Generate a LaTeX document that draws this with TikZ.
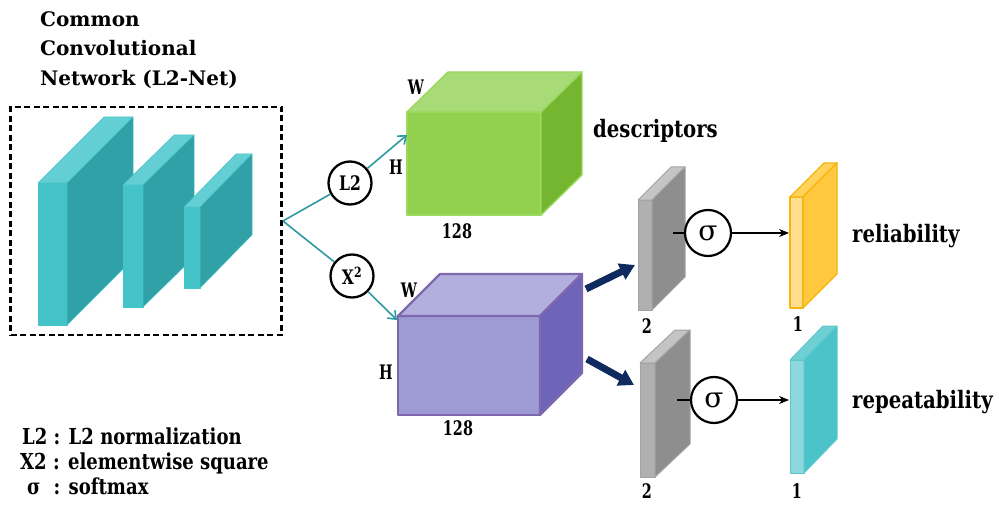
\documentclass[tikz,border=0pt]{standalone}
\usepackage{fontspec}
\setmainfont{DejaVu Serif}
\newfontfamily\condfont{DejaVu Serif}[FakeStretch=0.82]
\newfontfamily\narrowfont{DejaVu Serif}[FakeStretch=0.78]
\newfontfamily\dimfont{DejaVu Serif}[FakeStretch=0.72]
\usetikzlibrary{arrows.meta}

% face colours of the layer blocks
\definecolor{convfront}{HTML}{44C3C9}
\definecolor{convtop}{HTML}{63CED3}
\definecolor{convside}{HTML}{30A2A7}
\definecolor{convedge}{HTML}{44C3C9}
\definecolor{descfront}{HTML}{92D050}
\definecolor{desctop}{HTML}{A8DA78}
\definecolor{descside}{HTML}{75B630}
\definecolor{descedge}{HTML}{9BD95E}
\definecolor{sqfront}{HTML}{9E9AD3}
\definecolor{sqtop}{HTML}{B2AEDE}
\definecolor{sqside}{HTML}{6E64B9}
\definecolor{sqedge}{HTML}{7E67AC}
\definecolor{grayfront}{HTML}{B0B0B0}
\definecolor{graytop}{HTML}{C4C4C4}
\definecolor{grayside}{HTML}{8E8E8E}
\definecolor{grayedge}{HTML}{A3A3A3}
\definecolor{relfront}{HTML}{FFDF8E}
\definecolor{reltop}{HTML}{FFD25A}
\definecolor{relside}{HTML}{FFC83F}
\definecolor{reledge}{HTML}{F6B40E}
\definecolor{repfront}{HTML}{8CD8DC}
\definecolor{reptop}{HTML}{6FD0D4}
\definecolor{repside}{HTML}{4CC3C9}
\definecolor{repedge}{HTML}{5CC8CD}
\definecolor{branchline}{HTML}{2C9AA0}
\definecolor{navyarrow}{HTML}{0E2A5E}

\tikzset{
  conv slab/.style={draw=convedge, line width=0.5pt},
  desc slab/.style={draw=descedge, line width=1.4pt},
  sq slab/.style={draw=sqedge, line width=2.3pt},
  gray slab/.style={draw=grayedge, line width=1pt},
  rel slab/.style={draw=reledge, line width=1.4pt},
  rep slab/.style={draw=repedge, line width=1pt},
  opnode/.style={circle, draw=black, line width=2.3pt, minimum size=43pt, inner sep=0pt,
    font=\narrowfont\fontsize{20}{22}\selectfont\bfseries},
  signode/.style={circle, draw=black, line width=2.2pt, minimum size=46pt, inner sep=0pt,
    font=\fontsize{28}{30}\selectfont},
  branch/.style={draw=branchline, line width=1.6pt},
  branch arrow/.style={branch, -{Straight Barb[length=7pt, width=11pt, line width=1.6pt]}},
  sig arrow/.style={draw=black, line width=1.3pt, -{Stealth[length=10pt, width=8pt]}},
  thick arrow/.style={draw=navyarrow, line width=7pt, -{Triangle[length=15pt, width=17pt]}},
  cnnbox/.style={draw=black, line width=2.8pt, dash pattern=on 6pt off 3.5pt,
    minimum width=271pt, minimum height=228pt, inner sep=0pt},
  dimlabel/.style={font=\dimfont\fontsize{20}{22}\selectfont\bfseries, inner sep=0pt},
  headtext/.style={font=\fontsize{20}{24}\selectfont\bfseries, inner sep=0pt, anchor=base west},
  outtext/.style={font=\condfont\fontsize{24}{28}\selectfont\bfseries, inner sep=0pt, anchor=base west},
  legendtext/.style={font=\condfont\fontsize{22}{26}\selectfont\bfseries, inner sep=0pt, anchor=base west},
}

% \slab{x}{y}{width}{height}{dx}{dy}{prefix}: a block whose front face has its
% top-left corner at (x,y), receding by (dx,dy) up and to the right
\newcommand\slab[7]{%
  \filldraw[#7 slab, fill=#7front, line join=round] (#1,#2) rectangle ++(#3,#4);
  \filldraw[#7 slab, fill=#7top, line join=round]
    (#1,#2) -- ++(#5,-#6) -- ++(#3,0) -- ++(-#5,#6) -- cycle;
  \filldraw[#7 slab, fill=#7side, line join=round]
    (#1+#3,#2) -- ++(#5,-#6) -- ++(0,#4) -- ++(-#5,#6) -- cycle;
}

\begin{document}
\begin{tikzpicture}[x=1pt, y=-1pt]
\useasboundingbox (0,0) rectangle (999,508);

% heading of the shared network
\node[headtext] (title1) at (40,27) {Common};
\node[headtext] (title2) at (40,56) {Convolutional};
\node[headtext] (title3) at (40,86) {Network (L2-Net)};

% shared convolutional layers
\node[cnnbox] (cnn) at (146,221) {};
\slab{38}{183}{29}{142}{66}{66}{conv}
\slab{123}{185}{20}{122}{51}{50}{conv}
\slab{184}{207}{16}{81}{52}{53}{conv}

% descriptor tensor
\slab{407}{112}{134}{103}{41}{40}{desc}
\node[dimlabel] (descW) at (416,87) {W};
\node[dimlabel] (descH) at (396,167) {H};
\node[dimlabel] (descC) at (457,231) {128};
\node[outtext] (desclabel) at (593,138) {descriptors};

% squared feature tensor
\slab{398}{316}{142}{99}{42}{42}{sq}
\node[dimlabel] (sqW) at (409,290) {W};
\node[dimlabel] (sqH) at (386,372) {H};
\node[dimlabel] (sqC) at (458,428) {128};

% two-channel score maps
\slab{638}{200}{14}{110}{33}{33}{gray}
\slab{640}{363}{15}{114}{35}{33}{gray}
\node[dimlabel] (g1C) at (647,326) {2};
\node[dimlabel] (g2C) at (647,491) {2};

% output maps
\slab{790}{197}{13}{111}{34}{34}{rel}
\slab{790}{360}{14}{113}{33}{34}{rep}
\node[dimlabel] (relC) at (798,324) {1};
\node[dimlabel] (repC) at (797,491) {1};
\node[outtext] (rellabel) at (852,242) {reliability};
\node[outtext] (replabel) at (852,408) {repeatability};

% operators
\node[opnode] (l2) at (350,183) {L2};
\node[opnode] (sq) at (352,276) {X\textsuperscript{2}};
\node[signode] (sig1) at (708,233) {σ};
\node[signode] (sig2) at (714,400) {σ};

% connector end points
\coordinate (split) at (cnn.east);
\coordinate (descin) at (407,135);
\coordinate (sqin) at (397,320);
\coordinate (sqout1) at (586,289);
\coordinate (g1in) at (635,265);
\coordinate (sqout2) at (587,359);
\coordinate (g2in) at (634,385);
\coordinate (g1out) at (673,233);
\coordinate (g2out) at (677,400);
\coordinate (relin) at (789,233);
\coordinate (repin) at (789,400);

% connectors
\draw[branch] (split) -- (l2);
\draw[branch] (split) -- (sq);
\draw[branch arrow] (l2) -- (descin);
\draw[branch arrow] (sq) -- (sqin);
\draw[thick arrow] (sqout1) -- (g1in);
\draw[thick arrow] (sqout2) -- (g2in);
\draw[line width=1.3pt] (g1out) -- (sig1);
\draw[line width=1.3pt] (g2out) -- (sig2);
\draw[sig arrow] (sig1) -- (relin);
\draw[sig arrow] (sig2) -- (repin);

% legend
\node[legendtext] (leg1) at (22,444) {L2 : L2 normalization};
\node[legendtext] (leg2) at (20,469) {X2 : elementwise square};
\node[legendtext] (leg3) at (27,494) {σ\hspace{0.6em}: softmax};
\end{tikzpicture}
\end{document}
